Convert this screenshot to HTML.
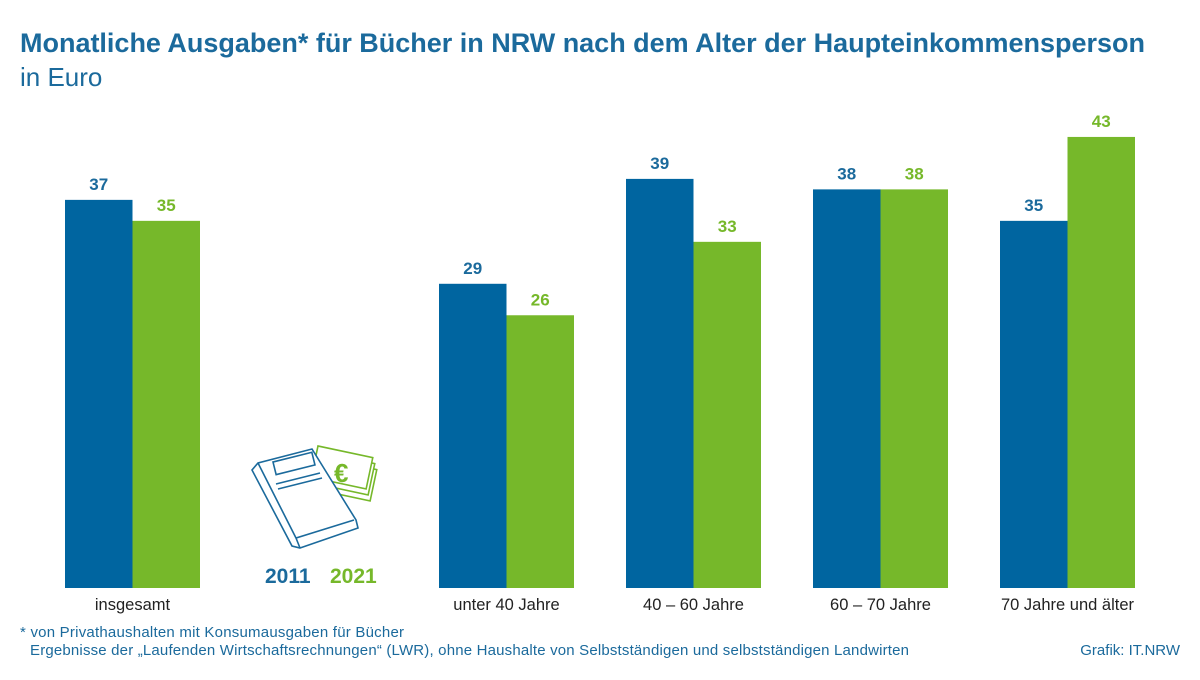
<!DOCTYPE html>
<html><head><meta charset="utf-8"><style>
body{margin:0;width:1200px;height:675px;background:#fff;font-family:"Liberation Sans",sans-serif;overflow:hidden}
</style></head><body>
<svg width="1200" height="675">
<text x="20" y="52" font-size="27" font-weight="bold" fill="#1b6a9c" textLength="1125">Monatliche Ausgaben* für Bücher in NRW nach dem Alter der Haupteinkommensperson</text>
<text x="20" y="86" font-size="26" fill="#1b6a9c">in Euro</text>
<g id="bars"></g>
<g fill="none" stroke-width="1.6">
<g stroke="#76b82a" fill="#fff">
<rect x="322" y="458" width="56" height="32" transform="rotate(12 322 458)"/>
<rect x="320" y="452" width="56" height="32" transform="rotate(12 320 452)"/>
<rect x="318" y="446" width="56" height="32" transform="rotate(12 318 446)"/>
</g>
<text x="334" y="482" font-size="26" font-weight="bold" fill="#76b82a" stroke="none">€</text>
<path stroke="#1b6a9c" fill="#fff" d="M300 548 L358 528 L356 520 L312 449 L258 463 L252 470 L292 546 Z"/>
<path stroke="#1b6a9c" d="M258 463 L296 538 L354 520 M296 538 L300 548"/>
<rect x="273" y="462" width="40" height="13" stroke="#1b6a9c" transform="rotate(-14 273 462)"/>
<path stroke="#1b6a9c" d="M276 484 L320 473 M278 489 L322 478"/>
</g>
<text x="265" y="583" font-size="21" font-weight="bold" fill="#1b6a9c">2011</text>
<text x="330" y="583" font-size="21" font-weight="bold" fill="#76b82a">2021</text>
<text x="20" y="637" font-size="15" fill="#1b6a9c" textLength="384">* von Privathaushalten mit Konsumausgaben für Bücher</text>
<text x="30" y="655" font-size="15" fill="#1b6a9c" textLength="879">Ergebnisse der „Laufenden Wirtschaftsrechnungen“ (LWR), ohne Haushalte von Selbstständigen und selbstständigen Landwirten</text>
<text x="1180" y="655" font-size="15" fill="#1b6a9c" text-anchor="end">Grafik: IT.NRW</text>
</svg>
<script>
const categories=["insgesamt","unter 40 Jahre","40 – 60 Jahre","60 – 70 Jahre","70 Jahre und älter"];
const values2011=[37,29,39,38,35];
const values2021=[35,26,33,38,43];
const slots=[0,2,3,4,5];
const base=588,scale=10.49,x0=65,step=187,bw=67.5;
const y=v=>base-v*scale;
const g=document.getElementById('bars');
const NS="http://www.w3.org/2000/svg";
function mk(t,a){const e=document.createElementNS(NS,t);for(const k in a)e.setAttribute(k,a[k]);g.appendChild(e);return e;}
categories.forEach((c,i)=>{
 const bx=x0+slots[i]*step;
 [[values2011[i],'#0065a0',bx,'2011'],[values2021[i],'#76b82a',bx+bw,'2021']].forEach(([v,col,xx,s])=>{
  const r=mk('rect',{x:xx,y:y(v),width:bw,height:v*scale,fill:col});
  
  
  const t=mk('text',{x:xx+bw/2,y:y(v)-10,'font-size':17,'font-weight':'bold','text-anchor':'middle',fill:col==='#0065a0'?'#1b6a9c':'#76b82a'});
  t.textContent=v;
  
  
 });
 const l=mk('text',{x:bx+bw,y:610,'font-size':16.5,'text-anchor':'middle',fill:'#222'});
 l.textContent=c;
 
 
});
</script>
</body></html>
